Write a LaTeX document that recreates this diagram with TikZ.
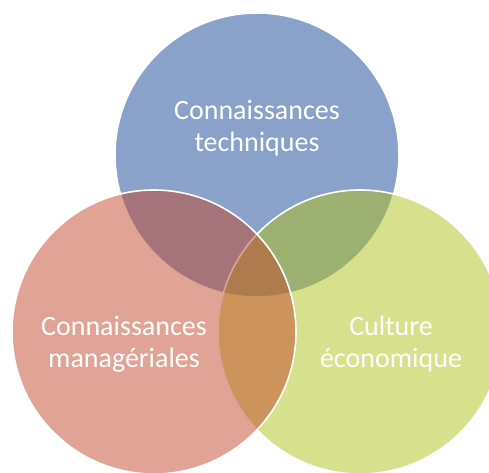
\documentclass[tikz,border=0pt]{standalone}
\usepackage{fontspec}
\setmainfont{Carlito}
\definecolor{cblue}{RGB}{138,162,201}
\definecolor{cred}{RGB}{193,71,45}
\definecolor{cgreen}{RGB}{175,193,27}
\begin{document}
\begin{tikzpicture}[x=1pt,y=1pt,
  venn/.style={circle,minimum size=284pt,inner sep=0pt,draw=white,line width=1.6pt},
  lbl/.style={text=white,align=center,anchor=base,font=\fontsize{28}{32}\selectfont}]
\useasboundingbox (0,0) rectangle (489,472);
\clip (0,0) rectangle (489,472);
\node[venn,fill=cblue] (tech) at (257,317) {};
\node[venn,fill=cgreen,fill opacity=0.5] (eco) at (360,140) {};
\node[venn,fill=cred,fill opacity=0.5] (man) at (154,140) {};
\node[lbl] (ttech) at (257,320) {Connaissances\\techniques};
\node[lbl] (tman) at (124,105) {Connaissances\\managériales};
\node[lbl] (teco) at (391,105) {Culture\\économique};
\end{tikzpicture}
\end{document}
